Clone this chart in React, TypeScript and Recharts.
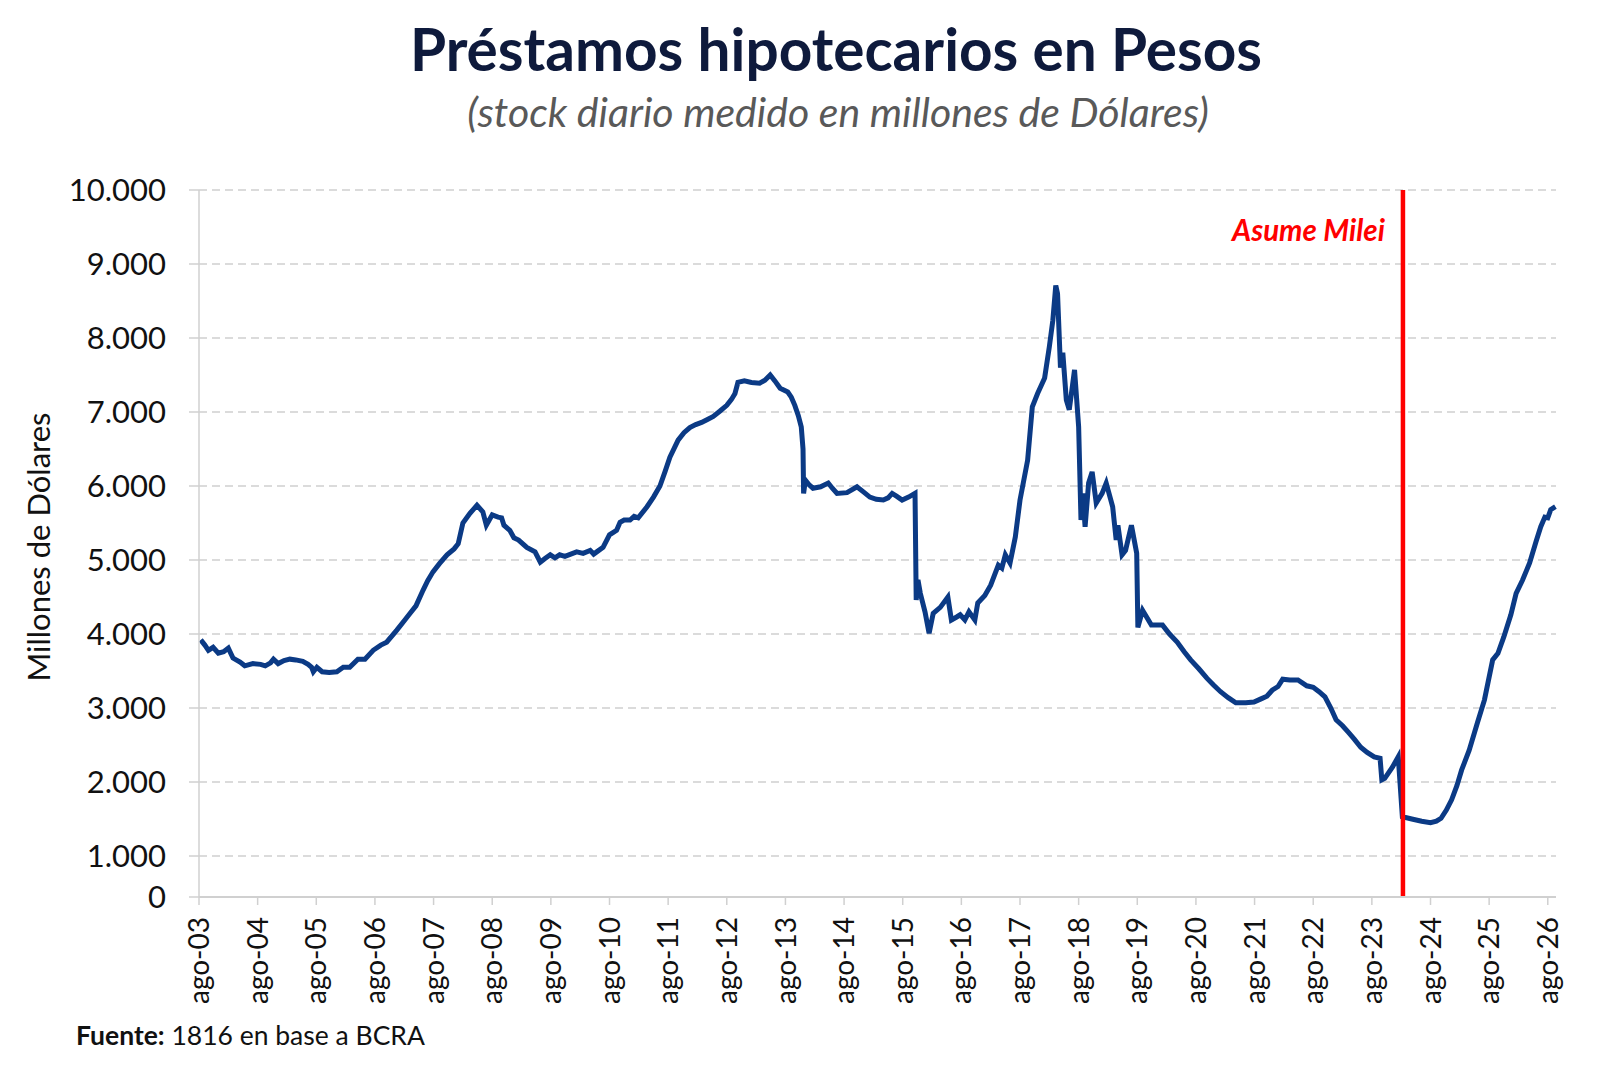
import React from 'react'
import { LineChart, Line, XAxis, YAxis, CartesianGrid, ReferenceLine } from 'recharts'

// años transcurridos desde ago-03 (eje x) y stock en millones de USD
const yearsSinceAgo03 = [
  0.03, 0.10, 0.16, 0.24, 0.33, 0.42, 0.50, 0.58, 0.70, 0.78, 0.92, 1.05, 1.13, 1.22, 1.27, 1.35, 1.45, 1.55, 1.65, 1.77,
  1.86, 1.92, 1.95, 2.01, 2.10, 2.22, 2.35, 2.46, 2.57, 2.71, 2.83, 2.97, 3.10, 3.20, 3.37, 3.50, 3.60, 3.70, 3.82, 3.90,
  3.99, 4.10, 4.23, 4.35, 4.42, 4.50, 4.62, 4.74, 4.84, 4.90, 5.00, 5.10, 5.16, 5.20, 5.30, 5.37, 5.45, 5.59, 5.73, 5.82,
  5.90, 5.99, 6.07, 6.15, 6.24, 6.34, 6.44, 6.55, 6.67, 6.73, 6.80, 6.89, 7.00, 7.12, 7.18, 7.25, 7.35, 7.42, 7.49, 7.64,
  7.75, 7.86, 7.95, 8.03, 8.17, 8.27, 8.37, 8.47, 8.57, 8.67, 8.77, 8.88, 9.00, 9.08, 9.14, 9.19, 9.30, 9.42, 9.56, 9.65,
  9.74, 9.82, 9.91, 10.04, 10.10, 10.16, 10.22, 10.27, 10.30, 10.31, 10.34, 10.40, 10.47, 10.60, 10.73, 10.80, 10.88, 11.05, 11.22, 11.33,
  11.44, 11.55, 11.67, 11.75, 11.82, 11.90, 11.99, 12.10, 12.21, 12.23, 12.26, 12.30, 12.38, 12.45, 12.52, 12.64, 12.77, 12.83, 12.92, 12.98,
  13.06, 13.13, 13.23, 13.28, 13.40, 13.50, 13.63, 13.69, 13.75, 13.83, 13.92, 14.00, 14.13, 14.21, 14.30, 14.42, 14.50, 14.56, 14.61, 14.64,
  14.69, 14.73, 14.79, 14.84, 14.93, 15.00, 15.04, 15.07, 15.11, 15.17, 15.23, 15.30, 15.40, 15.47, 15.58, 15.64, 15.67, 15.74, 15.80, 15.90,
  15.99, 16.01, 16.09, 16.24, 16.43, 16.55, 16.68, 16.80, 16.91, 17.05, 17.19, 17.30, 17.42, 17.55, 17.68, 17.85, 17.99, 18.10, 18.21, 18.30,
  18.40, 18.48, 18.60, 18.74, 18.89, 19.00, 19.10, 19.20, 19.30, 19.39, 19.50, 19.59, 19.70, 19.81, 19.92, 20.04, 20.14, 20.17, 20.22, 20.35,
  20.45, 20.52, 20.68, 20.85, 21.00, 21.10, 21.18, 21.27, 21.36, 21.45, 21.53, 21.66, 21.80, 21.92, 22.06, 22.15, 22.25, 22.37, 22.46, 22.57,
  22.69, 22.80, 22.88, 22.95, 23.00, 23.05, 23.13,
]

const stockMillones = [
  3920, 3850, 3780, 3820, 3740, 3760, 3810, 3675, 3620, 3570, 3600, 3590, 3570, 3610, 3660, 3600, 3640, 3660, 3650, 3630,
  3590, 3550, 3490, 3550, 3490, 3480, 3490, 3550, 3550, 3660, 3660, 3780, 3850, 3890, 4050, 4180, 4280, 4380, 4590, 4720,
  4840, 4950, 5070, 5150, 5220, 5500, 5630, 5740, 5650, 5470, 5610, 5580, 5570, 5470, 5400, 5300, 5270, 5170, 5110, 4970,
  5020, 5070, 5030, 5070, 5050, 5080, 5110, 5090, 5130, 5080, 5120, 5170, 5340, 5400, 5510, 5540, 5540, 5590, 5570, 5720,
  5850, 6000, 6200, 6390, 6620, 6720, 6790, 6830, 6860, 6900, 6940, 7010, 7090, 7170, 7250, 7400, 7420, 7400, 7390, 7430,
  7500, 7420, 7320, 7270, 7200, 7090, 6950, 6800, 6500, 5900, 6080, 6020, 5970, 5990, 6040, 5970, 5900, 5910, 5990, 5920,
  5850, 5820, 5810, 5840, 5900, 5860, 5810, 5850, 5900, 4460, 4730, 4550, 4300, 4010, 4280, 4360, 4500, 4190, 4230, 4260,
  4190, 4300, 4190, 4420, 4520, 4660, 4930, 4890, 5070, 4960, 5310, 5810, 6350, 7070, 7250, 7460, 7880, 8240, 8710, 8600,
  7600, 7800, 7160, 7030, 7570, 6800, 5540, 5900, 5450, 6040, 6190, 5770, 5900, 6040, 5720, 5270, 5470, 5070, 5130, 5470,
  5090, 4090, 4320, 4120, 4120, 4000, 3890, 3760, 3650, 3530, 3400, 3310, 3220, 3140, 3070, 3070, 3080, 3120, 3160, 3240,
  3290, 3390, 3380, 3380, 3300, 3280, 3220, 3150, 3000, 2840, 2760, 2680, 2580, 2470, 2400, 2340, 2320, 2030, 2050, 2200,
  2340, 1530, 1500, 1470, 1450, 1470, 1510, 1620, 1760, 1950, 2160, 2430, 2800, 3110, 3650, 3740, 3960, 4260, 4550, 4730,
  4960, 5250, 5450, 5580, 5570, 5680, 5720,
]

const xTicks = [0, 1, 2, 3, 4, 5, 6, 7, 8, 9, 10, 11, 12, 13, 14, 15, 16, 17, 18, 19, 20, 21, 22, 23]
const xTickLabels = [
  'ago-03', 'ago-04', 'ago-05', 'ago-06', 'ago-07', 'ago-08', 'ago-09', 'ago-10', 'ago-11', 'ago-12', 'ago-13', 'ago-14',
  'ago-15', 'ago-16', 'ago-17', 'ago-18', 'ago-19', 'ago-20', 'ago-21', 'ago-22', 'ago-23', 'ago-24', 'ago-25', 'ago-26',
]

// el eje del original arranca cerca de 450 aunque rotula "0"
const yTicks = [446, 1000, 2000, 3000, 4000, 5000, 6000, 7000, 8000, 9000, 10000]
const yTickLabels = ['0', '1.000', '2.000', '3.000', '4.000', '5.000', '6.000', '7.000', '8.000', '9.000', '10.000']

const asumeMilei = 20.53

const FONT = "Lato, 'Open Sans', sans-serif"

const data = yearsSinceAgo03.map((t, i) => ({ t, stock: stockMillones[i] }))

function XTick(props: any) {
  const { x, y, payload } = props
  return (
    <text
      x={x}
      y={y}
      transform={`rotate(-90 ${x} ${y})`}
      textAnchor="end"
      dy="0.36em"
      fontSize={28}
      fontFamily={FONT}
      fill="#111"
    >
      {xTickLabels[xTicks.indexOf(payload.value)]}
    </text>
  )
}

function MileiLabel(props: any) {
  const { viewBox } = props
  return (
    <text
      x={viewBox.x - 18}
      y={viewBox.y + 51}
      textAnchor="end"
      fontSize={29.5}
      fontWeight={700}
      fontStyle="italic"
      fontFamily={FONT}
      fill="#ff0000"
    >
      Asume Milei
    </text>
  )
}

export default function App() {
  return (
    <div style={{ position: 'relative', width: 1584, height: 1051, background: '#fff', fontFamily: FONT }}>
      <div
        style={{
          position: 'absolute', left: 228, top: 11, width: 1200, textAlign: 'center',
          fontSize: 58.5, lineHeight: 1, fontWeight: 700, color: '#0e1a3c',
        }}
      >
        Préstamos hipotecarios en Pesos
      </div>
      <div
        style={{
          position: 'absolute', left: 230, top: 83, width: 1200, textAlign: 'center',
          fontSize: 41, lineHeight: 1, fontStyle: 'italic', color: '#595959',
        }}
      >
        (stock diario medido en millones de Dólares)
      </div>

      <LineChart
        width={1584}
        height={1051}
        data={data}
        margin={{ top: 182, right: 36, bottom: 32, left: 71 }}
      >
        <CartesianGrid vertical={false} stroke="#cfcfcf" strokeWidth={1.5} strokeDasharray="8 5" />
        <XAxis
          dataKey="t"
          type="number"
          domain={[0, 23.14]}
          ticks={xTicks}
          interval={0}
          height={130}
          tickSize={8}
          tickMargin={12}
          axisLine={{ stroke: '#d0d0d0', strokeWidth: 2 }}
          tickLine={{ stroke: '#d0d0d0', strokeWidth: 1.5 }}
          tick={<XTick />}
        />
        <YAxis
          type="number"
          domain={[446, 10000]}
          ticks={yTicks}
          interval={0}
          width={120}
          tickSize={10}
          tickMargin={23}
          axisLine={{ stroke: '#d0d0d0', strokeWidth: 1.5 }}
          tickLine={{ stroke: '#d0d0d0', strokeWidth: 1.5 }}
          tick={{ fontSize: 31, fontFamily: FONT, fill: '#111' }}
          tickFormatter={(v: number) => yTickLabels[yTicks.indexOf(v)]}
        />
        <Line
          type="linear"
          dataKey="stock"
          stroke="#0b3a85"
          strokeWidth={5}
          dot={false}
          activeDot={false}
          isAnimationActive={false}
        />
        <ReferenceLine x={asumeMilei} stroke="#ff0000" strokeWidth={4.5} label={<MileiLabel />} />
      </LineChart>

      <svg width={80} height={1051} style={{ position: 'absolute', left: 0, top: 0 }}>
        <text
          x={30}
          y={539}
          transform="rotate(-90 30 539)"
          textAnchor="middle"
          dominantBaseline="central"
          fontSize={31}
          fontFamily={FONT}
          fill="#111"
        >
          Millones de Dólares
        </text>
      </svg>

      <div style={{ position: 'absolute', left: 68, top: 1014, fontSize: 26.5, lineHeight: 1, color: '#111' }}>
        <b>Fuente:</b> 1816 en base a BCRA
      </div>
    </div>
  )
}
